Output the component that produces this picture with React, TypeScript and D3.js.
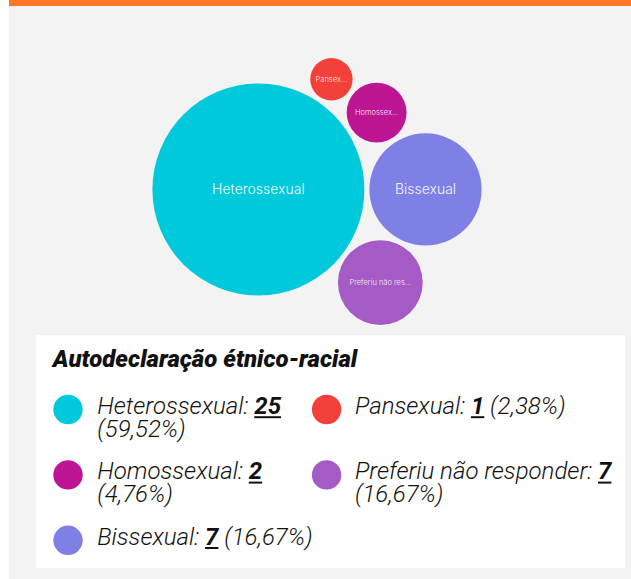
import React from 'react'
import * as d3 from 'd3'

// data
const categories = ['Heterossexual', 'Pansexual', 'Homossexual', 'Preferiu não responder', 'Bissexual']
const counts = [25, 1, 2, 7, 7]
// bubble sizes as drawn (the "Preferiu" bubble is drawn smaller than its count)
const bubbleSizes = [25, 1, 2, 4, 7]
const colors = ['#00c9db', '#f4403a', '#bd1593', '#a45bc5', '#7f80e6']
const legendTitle = 'Autodeclaração étnico-racial'

const W = 631, H = 579
const PANEL_X = 9
const BUBBLE_CX = 317, BUBBLE_CY = 191.5
const LEG_FONT = 'Roboto, "Liberation Sans", sans-serif'
const LEG_SIZE = 24

let ctx: CanvasRenderingContext2D | null = null
function measure(text: string, font: string) {
  if (!ctx) ctx = document.createElement('canvas').getContext('2d')
  ctx!.font = font
  return ctx!.measureText(text).width
}

const fmtPct = (v: number) => d3.format('.2f')(v).replace('.', ',') + '%'

function truncate(label: string, font: string, maxW: number) {
  if (measure(label, font) <= maxW) return label
  let s = label
  while (s.length > 1 && measure(s.trim() + '...', font) > maxW) s = s.slice(0, -1)
  return s.trim() + '...'
}

function Bubbles() {
  const rScale = d3.scaleSqrt().domain([0, d3.max(bubbleSizes)!]).range([0, 106])
  const pad = 2.5
  const nodes = categories
    .map((name, i) => ({ name, color: colors[i], rr: rScale(bubbleSizes[i]), r: rScale(bubbleSizes[i]) + pad, x: 0, y: 0 }))
    .sort((a, b) => b.r - a.r)
  d3.packSiblings(nodes)
  const x0 = d3.min(nodes, n => n.x - n.r)!, x1 = d3.max(nodes, n => n.x + n.r)!
  const y0 = d3.min(nodes, n => n.y - n.r)!, y1 = d3.max(nodes, n => n.y + n.r)!
  const dx = BUBBLE_CX - (x0 + x1) / 2, dy = BUBBLE_CY - (y0 + y1) / 2

  return (
    <g>
      {nodes.map(n => {
        const fs = n.rr > 50 ? 14 : 7.5
        const font = `300 ${fs}px Inter, "Noto Sans", sans-serif`
        const label = truncate(n.name, font, n.rr * 2 * 0.78)
        return (
          <g key={n.name} transform={`translate(${n.x + dx},${n.y + dy})`}>
            <circle r={n.rr} fill={n.color} />
            <text
              textAnchor="middle"
              dy="0.35em"
              fill="#fff"
              fillOpacity={0.94}
              style={{ font }}
            >{label}</text>
          </g>
        )
      })}
    </g>
  )
}

function Legend() {
  const total = d3.sum(counts)
  const lightFont = `italic 300 ${LEG_SIZE}px ${LEG_FONT}`
  const boldFont = `italic 700 ${LEG_SIZE}px ${LEG_FONT}`
  const colText = [97.3, 355]
  const colDot = [68, 326.6]
  const colMax = [228, 253]
  const lineH = 22.7

  const items = categories.map((name, i) => {
    const col = i % 2
    const prefix = name + ': '
    const value = String(counts[i])
    const pct = ' (' + fmtPct((counts[i] / total) * 100) + ')'
    const full = measure(prefix, lightFont) + measure(value, boldFont) + measure(pct, lightFont)
    return { name, i, col, row: Math.floor(i / 2), prefix, value, pct, wrap: full > colMax[col] }
  })

  const nRows = d3.max(items, d => d.row)! + 1
  const rowBase: number[] = []
  let base = 414
  for (let r = 0; r < nRows; r++) {
    rowBase.push(base)
    const lines = d3.max(items.filter(d => d.row === r), d => (d.wrap ? 2 : 1))!
    base += lines * lineH + 20
  }

  return (
    <g>
      <rect x={36} y={335} width={589} height={233} fill="#fff" />
      <text
        x={52.7}
        y={366.7}
        style={{ font: `italic 900 24px ${LEG_FONT}` }}
        fill="#111"
      >{legendTitle}</text>
      {items.map(d => {
        const y = rowBase[d.row]
        const uStart = measure(d.prefix, lightFont)
        const uEnd = uStart + measure(d.value, boldFont)
        return (
          <g key={d.name}>
            <circle cx={colDot[d.col]} cy={y - 4.5} r={14.7} fill={colors[d.i]} />
            <g transform={`translate(${colText[d.col]},${y})`}>
              <text fill="#111" style={{ font: lightFont }}>
                <tspan>{d.prefix}</tspan>
                <tspan style={{ font: boldFont }}>{d.value}</tspan>
                {!d.wrap && <tspan>{d.pct}</tspan>}
              </text>
              <line x1={uStart} x2={uEnd} y1={3.2} y2={3.2} stroke="#111" strokeWidth={2} />
              {d.wrap && (
                <text y={lineH} fill="#111" style={{ font: lightFont }}>{d.pct.trim()}</text>
              )}
            </g>
          </g>
        )
      })}
    </g>
  )
}

export default function App() {
  return (
    <svg
      width={W}
      height={H}
      style={{ position: 'absolute', left: 0, top: 0, display: 'block' }}
    >
      <rect width={W} height={H} fill="#fff" />
      <rect x={PANEL_X} y={0} width={W - PANEL_X} height={H} fill="#f3f3f3" />
      <rect x={PANEL_X} y={0} width={W - PANEL_X} height={6} fill="#ff7524" />
      <Bubbles />
      <Legend />
    </svg>
  )
}
